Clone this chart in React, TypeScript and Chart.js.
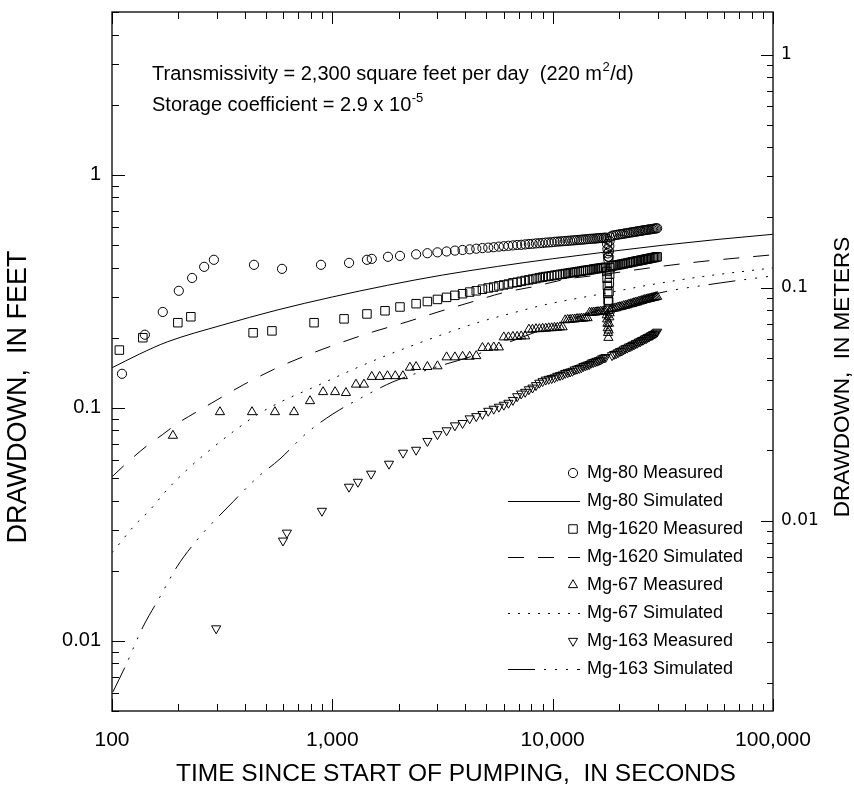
import React, { useEffect, useRef } from 'react';
import { Chart, registerables } from 'chart.js';

Chart.register(...registerables);

const FT_TO_M = 0.3048;
const X_MIN = 100;
const X_MAX = 100000;
const Y_MIN = 0.005;
const Y_MAX = 5;

const xTickValues = [100, 1000, 10000, 100000];
const xTickLabels = ['100', '1,000', '10,000', '100,000'];
const ftTickValues = [0.01, 0.1, 1];
const ftTickLabels = ['0.01', '0.1', '1'];
const mTickValues = [0.01, 0.1, 1];
const mTickLabels = ['0.01', '0.1', '1'];

// sample times (seconds) shared by the dense late-time measurements
const lateTimes = [2400, 2700, 3000, 3300, 3600, 3900, 4200, 4500, 4800, 5100, 5400, 5700, 6000, 6300, 6600, 6900, 7200, 7500, 7800, 8100, 8400, 8700, 9000, 9300, 9600, 9900, 10200, 10500, 10800, 11100, 11400, 11700, 12000, 12300, 12600, 12900, 13200, 13500, 13800, 14100, 14400, 14700, 15000, 15300, 15600, 15900, 16200, 16500, 16800, 17100, 17400];
const dipTimes = [17600, 17660, 17720, 17780, 17840, 17900, 17960, 18020, 18080, 18140, 18200];
const afterTimes = [18600, 19000, 19400, 19800, 20200, 20600, 21000, 21400, 21800, 22200, 22600, 23000, 23400, 23800, 24200, 24600, 25000, 25400, 25800, 26200, 26600, 27000, 27400, 27800, 28200, 28600, 29000, 29400, 29800];

// Mg-80 measured (ft)
const mg80EarlyT = [111, 141, 170, 201, 231, 262, 290, 441, 591, 888, 1191, 1436, 1510, 1789, 2028];
const mg80EarlyS = [0.140, 0.206, 0.258, 0.318, 0.361, 0.403, 0.432, 0.411, 0.395, 0.411, 0.419, 0.432, 0.436, 0.445, 0.449];
const mg80LateS = [0.456, 0.461, 0.465, 0.469, 0.473, 0.476, 0.479, 0.482, 0.485, 0.487, 0.489, 0.492, 0.494, 0.496, 0.498, 0.500, 0.501, 0.503, 0.505, 0.506, 0.508, 0.509, 0.510, 0.512, 0.513, 0.514, 0.516, 0.517, 0.518, 0.519, 0.520, 0.521, 0.522, 0.523, 0.524, 0.525, 0.526, 0.527, 0.528, 0.529, 0.530, 0.531, 0.532, 0.532, 0.533, 0.534, 0.535, 0.536, 0.536, 0.537, 0.538];
const mg80DipS = [0.530, 0.505, 0.480, 0.460, 0.445, 0.432, 0.445, 0.470, 0.495, 0.520, 0.540];
const mg80AfterS = [0.548, 0.550, 0.552, 0.554, 0.556, 0.557, 0.559, 0.561, 0.562, 0.564, 0.566, 0.567, 0.569, 0.570, 0.572, 0.573, 0.575, 0.576, 0.578, 0.579, 0.580, 0.582, 0.583, 0.584, 0.585, 0.587, 0.588, 0.589, 0.590];

// Mg-1620 measured (ft)
const mg1620EarlyT = [108, 138, 199, 228, 437, 532, 826, 1130, 1436, 1734, 2028];
const mg1620EarlyS = [0.177, 0.200, 0.232, 0.246, 0.210, 0.214, 0.232, 0.241, 0.253, 0.261, 0.271];
const mg1620LateS = [0.280, 0.286, 0.292, 0.298, 0.304, 0.309, 0.314, 0.318, 0.323, 0.327, 0.330, 0.334, 0.337, 0.340, 0.344, 0.346, 0.349, 0.352, 0.354, 0.357, 0.359, 0.362, 0.364, 0.366, 0.367, 0.369, 0.371, 0.372, 0.374, 0.375, 0.377, 0.378, 0.380, 0.381, 0.382, 0.384, 0.385, 0.386, 0.388, 0.389, 0.390, 0.391, 0.392, 0.394, 0.395, 0.396, 0.397, 0.398, 0.399, 0.400, 0.401];
const mg1620DipS = [0.385, 0.360, 0.335, 0.310, 0.290, 0.265, 0.285, 0.315, 0.345, 0.375, 0.400];
const mg1620AfterS = [0.406, 0.408, 0.409, 0.411, 0.412, 0.414, 0.415, 0.417, 0.418, 0.420, 0.421, 0.423, 0.424, 0.426, 0.427, 0.428, 0.430, 0.431, 0.432, 0.434, 0.435, 0.436, 0.437, 0.439, 0.440, 0.441, 0.442, 0.444, 0.445];

// Mg-67 measured (ft)
const mg67EarlyT = [189, 309, 432, 549, 670, 792, 908, 1029, 1153, 1280, 1392, 1510, 1640, 1780, 1930, 2090, 2250];
const mg67EarlyS = [0.076, 0.096, 0.096, 0.096, 0.096, 0.107, 0.117, 0.117, 0.116, 0.126, 0.126, 0.136, 0.136, 0.137, 0.137, 0.137, 0.149];
const mg67LateS = [0.150, 0.150, 0.151, 0.165, 0.165, 0.166, 0.166, 0.167, 0.181, 0.181, 0.182, 0.182, 0.201, 0.201, 0.202, 0.202, 0.203, 0.203, 0.217, 0.217, 0.218, 0.218, 0.219, 0.219, 0.220, 0.220, 0.221, 0.221, 0.222, 0.222, 0.238, 0.239, 0.239, 0.240, 0.240, 0.241, 0.241, 0.242, 0.242, 0.243, 0.243, 0.256, 0.256, 0.257, 0.257, 0.258, 0.258, 0.259, 0.259, 0.260, 0.260];
const mg67DipS = [0.250, 0.240, 0.230, 0.220, 0.210, 0.200, 0.215, 0.230, 0.245, 0.255, 0.262];
const mg67AfterS = [0.266, 0.267, 0.268, 0.270, 0.271, 0.272, 0.274, 0.275, 0.276, 0.278, 0.279, 0.280, 0.282, 0.283, 0.284, 0.286, 0.287, 0.288, 0.290, 0.291, 0.292, 0.293, 0.294, 0.295, 0.296, 0.297, 0.298, 0.299, 0.300];

// Mg-163 measured (ft)
const mg163EarlyT = [297, 597, 622, 897, 1190, 1306, 1500, 1808, 2094];
const mg163EarlyS = [0.0113, 0.0269, 0.0291, 0.0361, 0.0458, 0.0481, 0.0521, 0.0575, 0.0641];
const mg163LateS = [0.066, 0.072, 0.077, 0.080, 0.084, 0.086, 0.090, 0.092, 0.094, 0.097, 0.099, 0.101, 0.103, 0.105, 0.108, 0.112, 0.115, 0.117, 0.120, 0.122, 0.125, 0.128, 0.130, 0.132, 0.133, 0.134, 0.135, 0.137, 0.138, 0.139, 0.141, 0.142, 0.143, 0.144, 0.146, 0.147, 0.148, 0.149, 0.151, 0.152, 0.153, 0.154, 0.156, 0.157, 0.158, 0.159, 0.160, 0.161, 0.163, 0.164, 0.165];
const mg163AfterS = [0.168, 0.170, 0.171, 0.173, 0.175, 0.176, 0.178, 0.180, 0.181, 0.183, 0.184, 0.186, 0.187, 0.189, 0.190, 0.192, 0.193, 0.195, 0.196, 0.198, 0.199, 0.201, 0.202, 0.204, 0.205, 0.207, 0.208, 0.210, 0.212];

// Simulated curves (ft)
const sim80T = [100, 133, 178, 316, 562, 1000, 1778, 3162, 5623, 10000, 17783, 31623, 56234, 100000];
const sim80S = [0.1486, 0.170, 0.1919, 0.2265, 0.2630, 0.2992, 0.3357, 0.3715, 0.4046, 0.4365, 0.4677, 0.4989, 0.5284, 0.5559];
const sim1620T = [100, 121, 144, 169, 200, 238, 284, 394, 561, 776, 1084, 1531, 2183, 3020, 4305, 5957, 8147, 11750, 16410, 27670, 46670, 100000];
const sim1620S = [0.0506, 0.0598, 0.0687, 0.0766, 0.0862, 0.0952, 0.105, 0.1255, 0.1485, 0.169, 0.190, 0.212, 0.234, 0.258, 0.285, 0.312, 0.331, 0.358, 0.372, 0.399, 0.424, 0.454];
const sim67T = [100, 108.7, 124.6, 148.8, 177.7, 218.8, 278.5, 354, 455, 597, 851, 1202, 1698, 2422, 3420, 4677, 6607, 8770, 13300, 18780, 27670, 46670, 100000];
const sim67S = [0.0239, 0.0263, 0.0308, 0.0365, 0.0445, 0.0542, 0.0660, 0.0789, 0.0933, 0.1072, 0.1243, 0.1442, 0.1656, 0.1883, 0.2119, 0.2339, 0.2557, 0.2741, 0.2965, 0.3147, 0.3373, 0.3648, 0.3990];
const sim163T = [101, 114.6, 138.2, 165.1, 197.2, 243.1, 354, 455, 579, 767, 1007, 1377, 1884, 2985, 4217, 6400, 9723, 16410, 30690, 57540, 100000];
const sim163S = [0.00604, 0.00773, 0.01148, 0.01545, 0.0208, 0.0271, 0.0395, 0.0501, 0.0604, 0.0781, 0.0942, 0.1114, 0.1293, 0.150, 0.1656, 0.1920, 0.2227, 0.2634, 0.3117, 0.3436, 0.3686];

const legendLabels = ['Mg-80 Measured', 'Mg-80 Simulated', 'Mg-1620 Measured', 'Mg-1620 Simulated', 'Mg-67 Measured', 'Mg-67 Simulated', 'Mg-163 Measured', 'Mg-163 Simulated'];

const SANS = '"Liberation Sans", Arial, Helvetica, sans-serif';
const WIDE = '"DejaVu Sans", Verdana, sans-serif';

function pts(ts: number[], vs: number[]) {
  return ts.map((t, i) => ({ x: t, y: vs[i] }));
}

function measured(label: string, data: any[], style: string, radius: number, rotation = 0) {
  return {
    label,
    data,
    showLine: false,
    pointStyle: style,
    pointRadius: radius,
    pointHoverRadius: radius,
    pointRotation: rotation,
    pointBorderWidth: 1,
    pointBorderColor: '#000',
    pointBackgroundColor: 'rgba(0,0,0,0)',
    borderColor: '#000',
    backgroundColor: 'rgba(0,0,0,0)',
    yAxisID: 'y',
  };
}

function simulated(label: string, data: any[], dash: number[]) {
  return {
    label,
    data,
    showLine: true,
    pointRadius: 0,
    pointHoverRadius: 0,
    borderColor: '#000',
    borderWidth: 1,
    borderDash: dash,
    cubicInterpolationMode: 'monotone',
    fill: false,
    yAxisID: 'y',
  };
}

function drawMarker(ctx: CanvasRenderingContext2D, style: string, r: number, rotDeg: number, x: number, y: number) {
  ctx.beginPath();
  if (style === 'circle') {
    ctx.arc(x, y, r, 0, Math.PI * 2);
  } else if (style === 'rect') {
    const s = r * Math.SQRT1_2;
    ctx.rect(x - s, y - s, 2 * s, 2 * s);
  } else {
    let rad = (rotDeg * Math.PI) / 180;
    ctx.moveTo(x + Math.sin(rad) * r, y - Math.cos(rad) * r);
    rad += (2 * Math.PI) / 3;
    ctx.lineTo(x + Math.sin(rad) * r, y - Math.cos(rad) * r);
    rad += (2 * Math.PI) / 3;
    ctx.lineTo(x + Math.sin(rad) * r, y - Math.cos(rad) * r);
    ctx.closePath();
  }
  ctx.stroke();
}

function logTicks(min: number, max: number) {
  const out: { v: number; major: boolean }[] = [];
  const e0 = Math.floor(Math.log10(min));
  const e1 = Math.ceil(Math.log10(max));
  for (let e = e0; e <= e1; e++) {
    for (let m = 1; m <= 9; m++) {
      const v = m * Math.pow(10, e);
      if (v >= min * 0.9999 && v <= max * 1.0001) out.push({ v, major: m === 1 });
    }
  }
  return out;
}

function zeroPad(s: any) {
  s.paddingTop = 0;
  s.paddingBottom = 0;
  s.paddingLeft = 0;
  s.paddingRight = 0;
}

const decorPlugin = {
  id: 'decor',
  beforeDraw(chart: any) {
    const ctx = chart.ctx;
    ctx.save();
    ctx.fillStyle = '#fff';
    ctx.fillRect(0, 0, chart.width, chart.height);
    ctx.restore();
  },
  afterDraw(chart: any) {
    const { ctx, chartArea: a, scales } = chart;
    const xs = scales.x, ys = scales.y, ms = scales.y2;
    ctx.save();
    // frame
    ctx.strokeStyle = '#222';
    ctx.lineWidth = 1.5;
    ctx.strokeRect(a.left, a.top, a.right - a.left, a.bottom - a.top);
    // tick marks
    ctx.lineWidth = 1;
    ctx.strokeStyle = '#000';
    ctx.beginPath();
    for (const t of logTicks(xs.min, xs.max)) {
      const px = Math.round(xs.getPixelForValue(t.v)) + 0.5;
      const len = t.major ? 12 : 7;
      ctx.moveTo(px, a.bottom);
      ctx.lineTo(px, a.bottom - len);
      ctx.moveTo(px, a.top);
      ctx.lineTo(px, a.top + len);
    }
    for (const t of logTicks(ys.min, ys.max)) {
      const py = Math.round(ys.getPixelForValue(t.v)) + 0.5;
      ctx.moveTo(a.left, py);
      ctx.lineTo(a.left + (t.major ? 13 : 7), py);
    }
    for (const t of logTicks(ms.min, ms.max)) {
      const py = Math.round(ms.getPixelForValue(t.v)) + 0.5;
      ctx.moveTo(a.right, py);
      ctx.lineTo(a.right - (t.major ? 12 : 6), py);
    }
    ctx.stroke();

    // axis titles
    ctx.fillStyle = '#000';
    ctx.textBaseline = 'middle';
    ctx.textAlign = 'center';
    ctx.font = `24.5px ${SANS}`;
    ctx.fillText('TIME SINCE START OF PUMPING,  IN SECONDS', 456, 774);
    ctx.save();
    ctx.font = `27px ${SANS}`;
    ctx.translate(19, 397);
    ctx.rotate(-Math.PI / 2);
    ctx.fillText('DRAWDOWN,  IN FEET', 0, 0);
    ctx.restore();
    ctx.save();
    ctx.font = `22.5px ${SANS}`;
    ctx.translate(843, 377);
    ctx.rotate(-Math.PI / 2);
    ctx.fillText('DRAWDOWN,  IN METERS', 0, 0);
    ctx.restore();

    // annotation
    ctx.textAlign = 'left';
    const big = `20px ${SANS}`;
    const small = `13px ${SANS}`;
    const line1a = 'Transmissivity = 2,300 square feet per day  (220 m';
    ctx.font = big;
    ctx.fillText(line1a, 152, 74);
    let w = ctx.measureText(line1a).width;
    ctx.font = small;
    ctx.fillText('2', 152 + w + 0.5, 67);
    const w2 = ctx.measureText('2').width;
    ctx.font = big;
    ctx.fillText('/d)', 152 + w + w2 + 1, 74);
    const line2 = 'Storage coefficient = 2.9 x 10';
    ctx.fillText(line2, 152, 105);
    w = ctx.measureText(line2).width;
    ctx.font = small;
    ctx.fillText('-5', 152 + w + 0.5, 98);

    // legend
    const ds = chart.data.datasets;
    ctx.font = `18px ${SANS}`;
    ctx.lineWidth = 1;
    ctx.strokeStyle = '#000';
    for (let i = 0; i < ds.length; i++) {
      const d = ds[i];
      const y = 473 + 28 * i;
      if (d.showLine) {
        ctx.save();
        ctx.setLineDash(d.borderDash || []);
        ctx.beginPath();
        ctx.moveTo(508, y + 0.5);
        ctx.lineTo(580, y + 0.5);
        ctx.stroke();
        ctx.restore();
      } else {
        drawMarker(ctx, d.pointStyle, d.pointRadius, d.pointRotation || 0, 573, y);
      }
      ctx.fillText(legendLabels[i], 587, y);
    }
    ctx.restore();
  },
};

const mg80Data = [...pts(mg80EarlyT, mg80EarlyS), ...pts(lateTimes, mg80LateS), ...pts(dipTimes, mg80DipS), ...pts(afterTimes, mg80AfterS)];
const mg1620Data = [...pts(mg1620EarlyT, mg1620EarlyS), ...pts(lateTimes, mg1620LateS), ...pts(dipTimes, mg1620DipS), ...pts(afterTimes, mg1620AfterS)];
const mg67Data = [...pts(mg67EarlyT, mg67EarlyS), ...pts(lateTimes, mg67LateS), ...pts(dipTimes, mg67DipS), ...pts(afterTimes, mg67AfterS)];
const mg163Data = [...pts(mg163EarlyT, mg163EarlyS), ...pts(lateTimes, mg163LateS), ...pts(afterTimes, mg163AfterS)];

export default function App() {
  const ref = useRef<HTMLCanvasElement>(null);
  useEffect(() => {
    const chart = new Chart(ref.current as HTMLCanvasElement, {
      type: 'scatter',
      data: {
        datasets: [
          measured(legendLabels[0], mg80Data, 'circle', 4.6),
          simulated(legendLabels[1], pts(sim80T, sim80S), []),
          measured(legendLabels[2], mg1620Data, 'rect', 6),
          simulated(legendLabels[3], pts(sim1620T, sim1620S), [16, 14]),
          measured(legendLabels[4], mg67Data, 'triangle', 5.3),
          simulated(legendLabels[5], pts(sim67T, sim67S), [2, 8]),
          measured(legendLabels[6], mg163Data, 'triangle', 5.3, 180),
          simulated(legendLabels[7], pts(sim163T, sim163S), [27, 9, 2, 9, 2, 9, 2, 9]),
        ] as any,
      },
      options: {
        responsive: false,
        maintainAspectRatio: false,
        animation: false,
        events: [],
        layout: { padding: { top: 12, left: 0, right: 0, bottom: 0 } },
        plugins: { legend: { display: false }, tooltip: { enabled: false } },
        scales: {
          x: {
            type: 'logarithmic',
            position: 'bottom',
            min: X_MIN,
            max: X_MAX,
            grid: { display: false, drawTicks: false },
            border: { display: false },
            ticks: {
              autoSkip: false,
              maxRotation: 0,
              padding: 17,
              color: '#000',
              font: { family: SANS, size: 21 },
              callback: (v: any) => {
                const i = xTickValues.indexOf(Number(v));
                return i >= 0 ? xTickLabels[i] : '';
              },
            },
            afterBuildTicks: (s: any) => {
              s.ticks = xTickValues.map((v) => ({ value: v }));
            },
            afterFit: (s: any) => {
              s.height = 81;
              zeroPad(s);
            },
          },
          y: {
            type: 'logarithmic',
            position: 'left',
            min: Y_MIN,
            max: Y_MAX,
            grid: { display: false, drawTicks: false },
            border: { display: false },
            ticks: {
              autoSkip: false,
              padding: 11,
              color: '#000',
              font: { family: SANS, size: 20 },
              callback: (v: any) => {
                const i = ftTickValues.indexOf(Number(v));
                return i >= 0 ? ftTickLabels[i] : '';
              },
            },
            afterBuildTicks: (s: any) => {
              s.ticks = ftTickValues.map((v) => ({ value: v }));
            },
            afterFit: (s: any) => {
              s.width = 112;
              zeroPad(s);
            },
          },
          y2: {
            type: 'logarithmic',
            position: 'right',
            min: Y_MIN * FT_TO_M,
            max: Y_MAX * FT_TO_M,
            grid: { display: false, drawTicks: false },
            border: { display: false },
            ticks: {
              autoSkip: false,
              padding: 8,
              color: '#000',
              font: { family: WIDE, size: 17 },
              callback: (v: any) => {
                const i = mTickValues.indexOf(Number(v));
                return i >= 0 ? mTickLabels[i] : '';
              },
            },
            afterBuildTicks: (s: any) => {
              s.ticks = mTickValues.map((v) => ({ value: v }));
            },
            afterFit: (s: any) => {
              s.width = 81;
              zeroPad(s);
            },
          },
        },
      } as any,
      plugins: [decorPlugin],
    });
    return () => chart.destroy();
  }, []);
  return (
    <div style={{ position: 'fixed', left: 0, top: 0, width: 854, height: 792, background: '#fff' }}>
      <canvas ref={ref} width={854} height={792} style={{ width: 854, height: 792, display: 'block' }} />
    </div>
  );
}
